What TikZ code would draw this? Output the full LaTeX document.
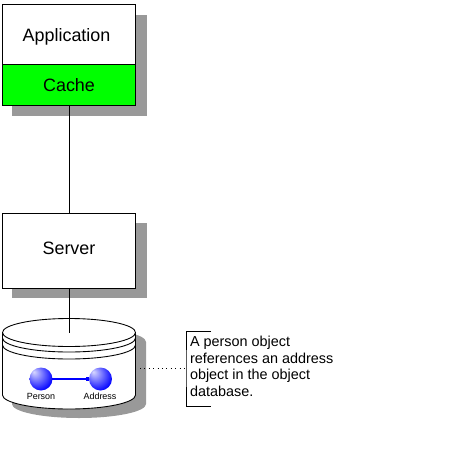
\documentclass[tikz,border=0pt]{standalone}
\usepackage{fontspec}
\setmainfont{Liberation Sans}
\usepackage{xcolor}
\usetikzlibrary{arrows.meta, shapes.geometric}
\definecolor{shadowgray}{RGB}{153,153,153}
\definecolor{cachegreen}{RGB}{0,255,0}
\pgfdeclareradialshading{bluesphere}{\pgfpoint{-16bp}{16bp}}{color(0bp)=(white!85!blue); color(32bp)=(blue); color(50bp)=(blue)}

\begin{document}
\begin{tikzpicture}[x=0.02cm, y=-0.02cm,
    every node/.style={inner sep=0, outer sep=0},
    box/.style={draw, fill=white, line width=0.5pt, minimum width=2.66cm, font=\fontsize{10.2pt}{12pt}\selectfont},
    shadowbox/.style={fill=shadowgray, minimum width=2.7cm},
    ball/.style={circle, minimum size=0.46cm, shading=bluesphere},
    smalllabel/.style={font=\fontsize{5.1pt}{6pt}\selectfont}]
  \useasboundingbox (0,0) rectangle (458,460);

  % shadows
  \node[shadowbox, minimum height=2.02cm] (appshadow) at (79.5,65.5) {};
  \node[shadowbox, minimum height=1.5cm] (servershadow) at (79.5,260.5) {};
  \fill[shadowgray] (12,342) rectangle (146,404)
    (12,404) arc[start angle=180, end angle=0, x radius=67, y radius=14];
  \fill[shadowgray] (12,342) arc[start angle=180, end angle=360, x radius=67, y radius=14];

  \node[box, minimum height=1.2cm, text height=9.6pt, text depth=2.1pt] (application) at (69,34.5) {Application\kern2.8pt\hbox{}};
  \node[box, fill=cachegreen, minimum height=0.81cm] (cache) at (69,84.75) {Cache};
  \node[box, minimum height=1.5cm, text depth=0.4ex] (server) at (69,250.5) {Server};

  % database
  \draw[fill=white, line width=0.5pt] (2.5,332.5) -- (2.5,395)
    arc[start angle=180, end angle=0, x radius=66.5, y radius=14] -- (135.5,332.5);
  \foreach \y in {338,345}
    \draw[line width=0.5pt] (2.5,\y) arc[start angle=180, end angle=0, x radius=66.5, y radius=14];
  \node[draw, ellipse, fill=white, line width=0.5pt, minimum width=2.66cm, minimum height=0.56cm] (dbtop) at (69,332.5) {};

  \draw[line width=0.5pt] (cache) -- (server);
  \draw[line width=0.5pt] (server) -- (dbtop.center);

  \node[ball] (person) at (41,379) {};
  \node[ball] (address) at (100.5,379) {};
  \draw[blue, line width=0.7pt, -{Square[length=1.5pt,width=2pt]}] (person) -- (address);
  \node[smalllabel] (personlabel) at (41,396) {Person};
  \node[smalllabel] (addresslabel) at (100,396) {Address};

  % note
  \coordinate (dotstart) at (140,368);
  \node[anchor=north west, align=left, font=\fontsize{8.2pt}{9.45pt}\selectfont] (note) at (190,336) {A person object\\references an address\\object in the object\\database.};
  \coordinate (noteleft) at (186,368);
  \draw[dotted, line width=0.5pt] (dotstart) -- (noteleft);
  \draw[line width=0.5pt] (211,331) -- (186,331) -- (noteleft) -- (186,406) -- (211,406);
\end{tikzpicture}
\end{document}
